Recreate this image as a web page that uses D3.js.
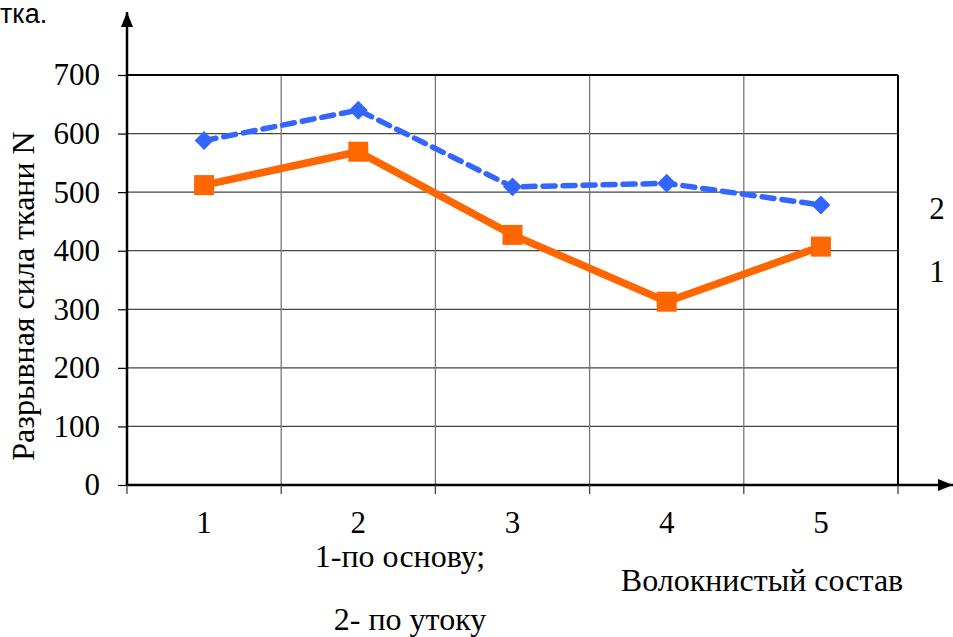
<!DOCTYPE html>
<html>
<head>
<meta charset="utf-8">
<script src="https://cdn.jsdelivr.net/npm/d3@7"></script>
<style>
  html, body { margin: 0; padding: 0; background: #fff; }
  svg { display: block; font-family: "Liberation Serif", "Times New Roman", serif; }
</style>
</head>
<body>
<svg id="chart" width="953" height="637"></svg>
<script>
// Fibre composition groups along the horizontal axis
const categories = ["1", "2", "3", "4", "5"];
// Breaking force of the fabric, N
const warpValues = [512, 569, 427, 313, 407];   // 1 - по основу
const weftValues = [588, 640, 509, 515, 478];   // 2 - по утоку
const yTicks = [0, 100, 200, 300, 400, 500, 600, 700];

const svg = d3.select("#chart");
const plotLeft = 127, plotRight = 898, plotTop = 75, plotBottom = 485;
const labelSize = 31, titleSize = 32;

const x = d3.scaleBand().domain(categories).range([plotLeft, plotRight]);
const y = d3.scaleLinear().domain([0, 700]).range([plotBottom, plotTop]);

// arrow head marker for axes
const defs = svg.append("defs");
defs.append("marker")
  .attr("id", "arrow")
  .attr("viewBox", "0 0 10 10")
  .attr("refX", 10).attr("refY", 5)
  .attr("markerWidth", 6).attr("markerHeight", 6)
  .attr("markerUnits", "strokeWidth")
  .attr("orient", "auto")
  .append("path").attr("d", "M0,1 L10,5 L0,9 Z").attr("fill", "#000");

// horizontal gridlines
svg.append("g").selectAll("line")
  .data(yTicks.filter(v => v > 0 && v < 700))
  .join("line")
  .attr("x1", plotLeft).attr("x2", plotRight)
  .attr("y1", d => y(d)).attr("y2", d => y(d))
  .attr("stroke", "#444").attr("stroke-width", 1.2);

// vertical gridlines at category boundaries
const bounds = categories.slice(1).map(c => x(c));
svg.append("g").selectAll("line")
  .data(bounds)
  .join("line")
  .attr("x1", d => d).attr("x2", d => d)
  .attr("y1", plotTop).attr("y2", plotBottom)
  .attr("stroke", "#777").attr("stroke-width", 1.3);

// plot frame: top and right edges
svg.append("line").attr("x1", plotLeft).attr("x2", plotRight).attr("y1", plotTop).attr("y2", plotTop)
  .attr("stroke", "#000").attr("stroke-width", 2);
svg.append("line").attr("x1", plotRight).attr("x2", plotRight).attr("y1", plotTop).attr("y2", plotBottom)
  .attr("stroke", "#000").attr("stroke-width", 2);

// y axis with ticks
const yAxis = d3.axisLeft(y).tickValues(yTicks).tickSize(9).tickPadding(18).tickSizeOuter(0);
const gy = svg.append("g").attr("transform", `translate(${plotLeft},0)`).call(yAxis);
gy.select(".domain").remove();
gy.selectAll(".tick line").attr("stroke", "#000").attr("stroke-width", 1.2);
gy.selectAll(".tick text")
  .attr("font-family", "Liberation Serif, Times New Roman, serif")
  .attr("font-size", labelSize).attr("fill", "#000");

// y axis line with arrow
svg.append("line").attr("x1", plotLeft).attr("x2", plotLeft).attr("y1", plotBottom).attr("y2", 12)
  .attr("stroke", "#000").attr("stroke-width", 2.5).attr("marker-end", "url(#arrow)");

// x axis line with arrow
svg.append("line").attr("x1", plotLeft).attr("x2", 953).attr("y1", plotBottom).attr("y2", plotBottom)
  .attr("stroke", "#000").attr("stroke-width", 2.5).attr("marker-end", "url(#arrow)");

// x ticks at band boundaries
const xTickPos = categories.map(c => x(c)).concat([plotRight]);
svg.append("g").selectAll("line")
  .data(xTickPos)
  .join("line")
  .attr("x1", d => d).attr("x2", d => d)
  .attr("y1", plotBottom).attr("y2", plotBottom + 9)
  .attr("stroke", "#444").attr("stroke-width", 1.3);

// category labels
svg.append("g").selectAll("text")
  .data(categories)
  .join("text")
  .attr("x", d => x(d) + x.bandwidth() / 2)
  .attr("y", 533)
  .attr("text-anchor", "middle")
  .attr("font-size", labelSize)
  .text(d => d);

const cx = d => x(d) + x.bandwidth() / 2;

// series 2: weft, blue dashed with diamonds
const line = d3.line().x((d, i) => cx(categories[i])).y(d => y(d));
svg.append("path").datum(weftValues)
  .attr("d", line)
  .attr("fill", "none").attr("stroke", "#3366FF").attr("stroke-width", 5.5)
  .attr("stroke-dasharray", "12,8").attr("stroke-linecap", "round");
svg.append("g").selectAll("path")
  .data(weftValues)
  .join("path")
  .attr("d", d3.symbol(d3.symbolSquare, 180))
  .attr("transform", (d, i) => `translate(${cx(categories[i])},${y(d)}) rotate(45)`)
  .attr("fill", "#3366FF");

// series 1: warp, solid orange with squares
svg.append("path").datum(warpValues)
  .attr("d", line)
  .attr("fill", "none").attr("stroke", "#FF6600").attr("stroke-width", 7.5)
  .attr("stroke-linejoin", "round");
svg.append("g").selectAll("rect")
  .data(warpValues)
  .join("rect")
  .attr("x", (d, i) => cx(categories[i]) - 10)
  .attr("y", d => y(d) - 10)
  .attr("width", 20).attr("height", 20)
  .attr("fill", "#FF6600");

// series numbers at the right
svg.append("text").attr("x", 937).attr("y", 219).attr("text-anchor", "middle")
  .attr("font-size", labelSize).text("2");
svg.append("text").attr("x", 937).attr("y", 282).attr("text-anchor", "middle")
  .attr("font-size", labelSize).text("1");

// y axis title
svg.append("text")
  .attr("transform", "translate(34,296) rotate(-90)")
  .attr("text-anchor", "middle")
  .attr("font-size", titleSize)
  .text("Разрывная сила ткани N");

// x axis title and legend notes
svg.append("text").attr("x", 762).attr("y", 591).attr("text-anchor", "middle")
  .attr("font-size", titleSize).text("Волокнистый состав");
svg.append("text").attr("x", 400).attr("y", 567).attr("text-anchor", "middle")
  .attr("font-size", titleSize).text("1-по основу;");
svg.append("text").attr("x", 410).attr("y", 630).attr("text-anchor", "middle")
  .attr("font-size", titleSize).text("2- по утоку");

// caption fragment at the top-left
svg.append("text").attr("x", 0).attr("y", 23)
  .attr("font-family", "Liberation Sans, Arial, sans-serif")
  .attr("font-size", 27).text("тка.");
</script>
</body>
</html>
